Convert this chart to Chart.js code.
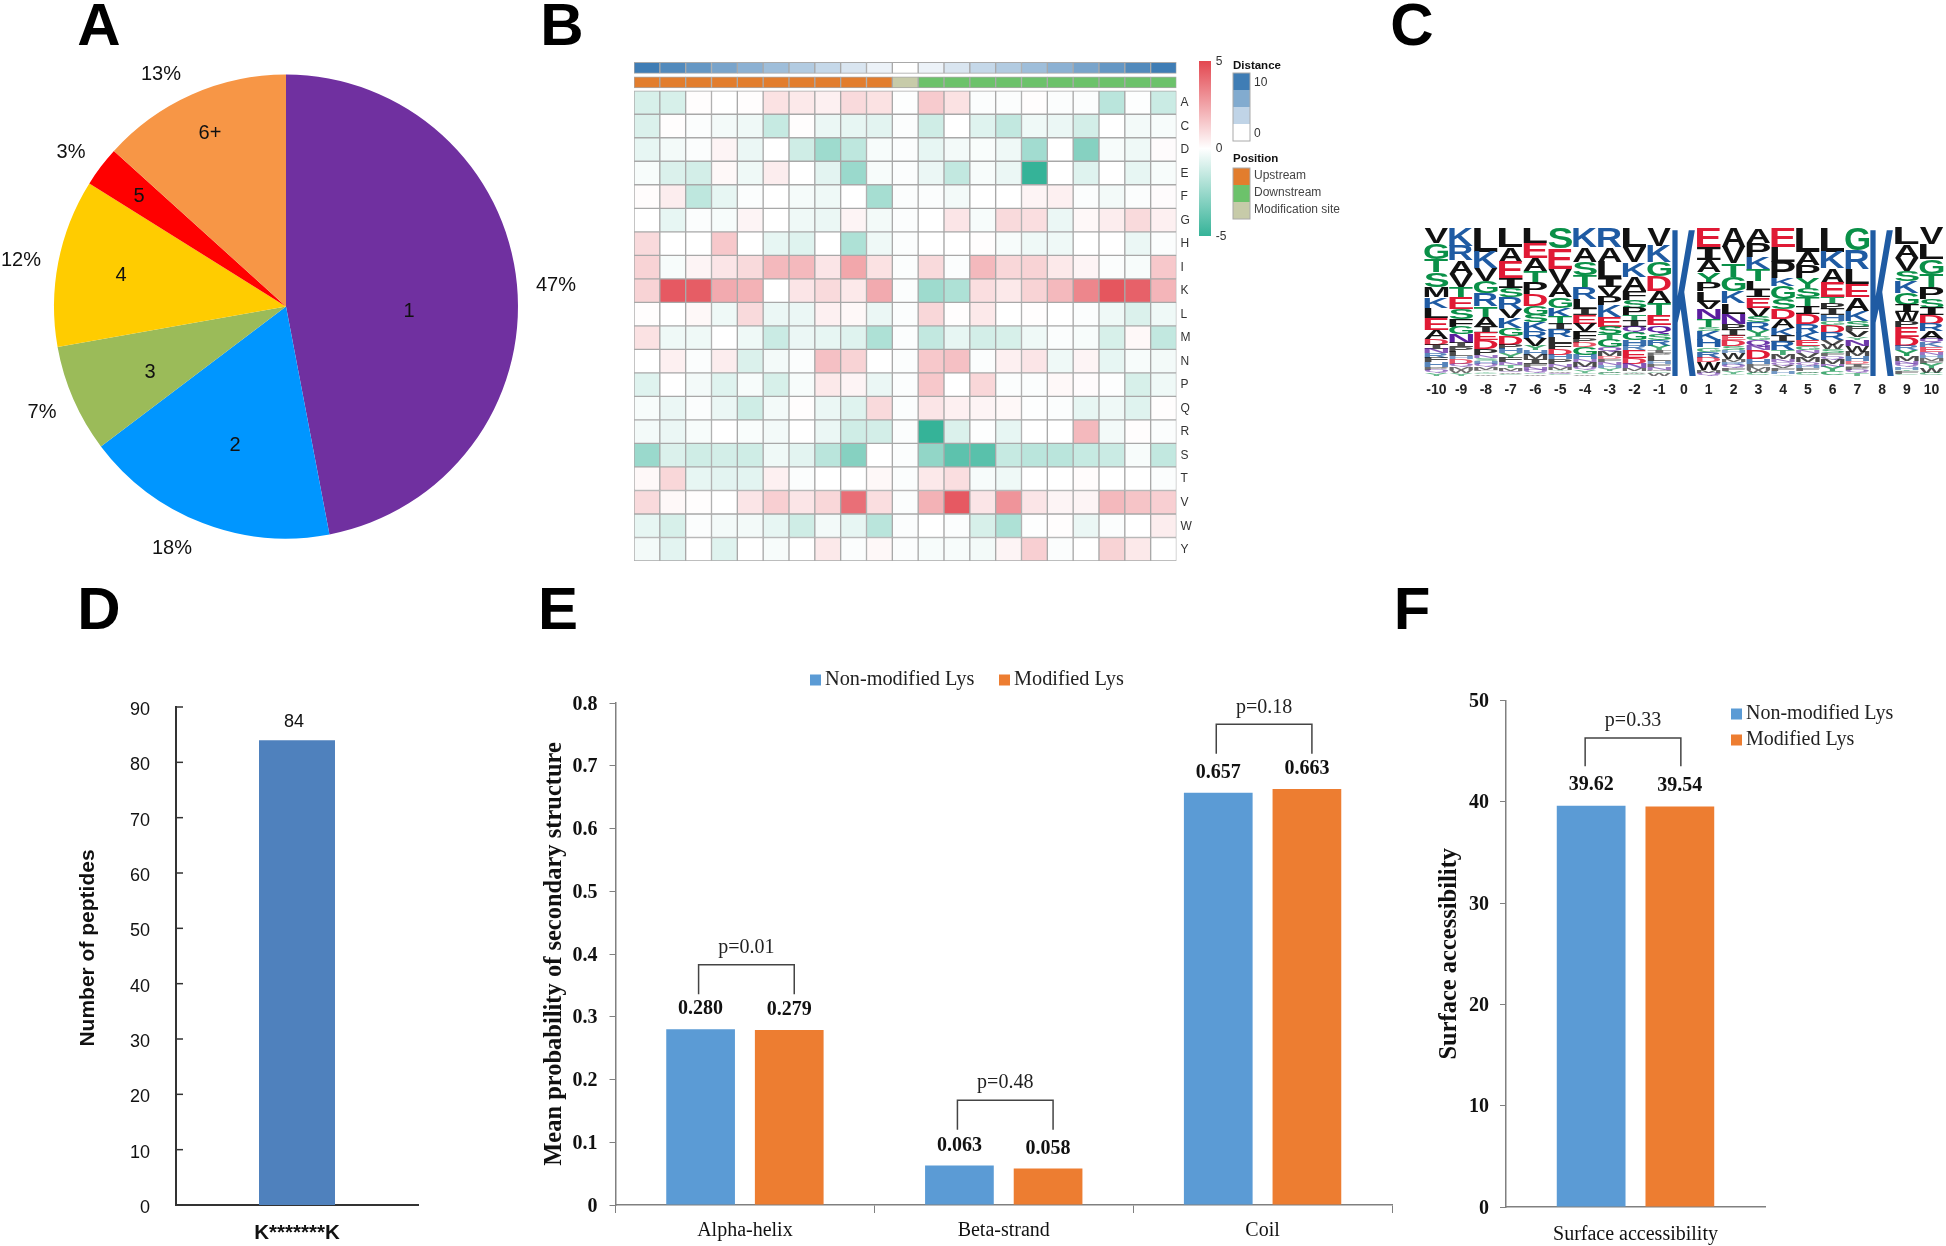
<!DOCTYPE html>
<html>
<head>
<meta charset="utf-8">
<title>Lysine modification panels</title>
<script src="https://cdn.jsdelivr.net/npm/chart.js@4"></script>
<style>
    html, body { margin: 0; padding: 0; background: #fff; width: 1946px; height: 1246px; overflow: hidden; }
    canvas { position: absolute; left: 0; top: 0; }
    .panel-letter { position: absolute; font: bold 60px "Liberation Sans", sans-serif; color: #000; line-height: 60px; transform: translateX(-50%); }
</style>
</head>
<body>
<div class="panel-letter" style="left:99px;top:-5px">A</div>
<div class="panel-letter" style="left:562px;top:-5px">B</div>
<div class="panel-letter" style="left:1412px;top:-5px">C</div>
<div class="panel-letter" style="left:99px;top:579px">D</div>
<div class="panel-letter" style="left:558px;top:579px">E</div>
<div class="panel-letter" style="left:1412px;top:579px">F</div>
<canvas id="pieChart" width="1946" height="1246"></canvas>
<canvas id="heatChart" width="1946" height="1246"></canvas>
<canvas id="logoChart" width="1946" height="1246"></canvas>
<canvas id="peptideChart" width="1946" height="1246"></canvas>
<canvas id="structureChart" width="1946" height="1246"></canvas>
<canvas id="surfaceChart" width="1946" height="1246"></canvas>
<script>
// --- DATA: A (pie) ---
const pieLabels = ['1', '2', '3', '4', '5', '6+'];
const pieValues = [47, 17.7, 7.5, 11.7, 2.8, 13.3];
const piePercentLabels = ['47%', '18%', '7%', '12%', '3%', '13%'];

// --- DATA: B (heatmap) ---
const heatRows = ['A', 'C', 'D', 'E', 'F', 'G', 'H', 'I', 'K', 'L', 'M', 'N', 'P', 'Q', 'R', 'S', 'T', 'V', 'W', 'Y'];
const heatColumns = [-10, -9, -8, -7, -6, -5, -4, -3, -2, -1, 0, 1, 2, 3, 4, 5, 6, 7, 8, 9, 10];
const heatValues = [
    [-1, -1, .05, 0, .05, .8, .6, .4, 1, .8, -.05, 1.4, .8, -.1, -.1, .05, -.1, -.1, -1.7, -.05, -1.3],
    [-.9, .05, -.1, -.3, -.4, -1.4, .05, -.5, -.6, -.7, -.1, -1.2, 0, -.8, -1.5, -.4, -.5, -1.1, 0, -.3, -.2],
    [-.6, -.3, -.1, .3, -.5, 0, -1.2, -2.4, -1.6, -.2, -.1, -.6, -.3, -.15, -.4, -2.3, 0, -3, -.2, -.4, .1],
    [-.2, -.9, -1.1, .2, -.4, .5, 0, -.7, -2.5, -.2, -.1, -.5, -1.5, -.2, -.5, -5, 0, -.8, 0, -.6, -.2],
    [.08, .5, -1.6, -.6, -.1, 0, -.25, -.4, 0, -2.2, -.1, -.1, -.3, 0, 0, .3, .4, -.1, -.3, -.1, .1],
    [0, -.6, -.1, -.2, .3, 0, -.4, -.5, .3, -.3, -.1, 0, .7, -.2, 1, .9, -.5, .2, .5, 1, .4],
    [1, 0, 0, 1.5, 0, -.6, -.8, 0, -2, -.4, -.1, 0, 0, .05, -.2, -.4, -.4, 0, 0, -.5, -.1],
    [1.2, -.2, .3, .7, 1, 1.9, 1.9, .7, 2.4, .8, -.1, 1, -.1, 1.9, 1.1, 1.2, .6, .3, -.1, -.2, 1.5],
    [1.2, 4.5, 4.4, 2.3, 2.1, 0, .7, 1, .6, 2.3, -.1, -2.4, -2, .9, .6, 1.2, 1.9, 3.3, 4.6, 4.3, 2],
    [.05, 0, .2, -.4, 1, -.5, -.5, .4, .2, -.5, -.1, 1.1, .05, .6, 0, .05, 0, -.1, -.4, -.9, -.4],
    [.8, -.4, -.4, 0, -.4, -1.3, -.5, -.6, -.8, -2, -.1, -1.5, -.6, -1.1, -1, -.4, -.1, -.2, -1, .2, -1.5],
    [0, .4, -.1, .5, -.9, -.3, -.1, 1.7, 1.2, 0, -.1, 1.5, 1.7, -.1, .4, .7, -.4, .3, -.6, -.2, -.3],
    [-.8, 0, -.3, -.8, -.2, -1, -.2, .6, .3, -.5, -.1, 1.5, 0, 1.1, -.1, -.1, .2, .1, -.05, -1, -.4],
    [-.2, -.5, -.1, -.5, -1.2, -.3, .05, -.5, -.8, 1, -.1, .7, .4, .3, .2, -.05, -.1, -.6, -.4, -.8, .05],
    [-.3, -.5, -.2, 0, -.15, -.3, 0, -.5, -1.2, -1.1, -.1, -5, -.9, -.05, -.6, 0, 0, 1.9, -.3, .05, -.1],
    [-2.5, -.9, -1.2, -1.1, -1.2, -.4, -.7, -1.7, -3, 0, -.1, -2.7, -4, -4.1, -1.4, -1.7, -1.7, -1.4, -1.3, -.2, -1.5],
    [.2, 1.1, -.6, -.7, -.7, .4, -.1, 0, 0, .2, -.1, .6, .9, -.2, -.4, 0, 0, .08, 0, 0, -.1],
    [1, .2, .05, 0, .7, 1.3, .7, 1.1, 3.9, .9, -.1, 2.1, 4.5, .7, 2.9, .7, .3, .3, 1.9, 1.6, 1.3],
    [-.6, -1, -.1, -.3, -.3, -.6, -1.2, -.3, -.6, -1.7, -.1, 0, -.1, -1, -2, -.05, .05, -.5, -.1, 0, .5],
    [-.3, -.7, 0, -.8, 0, -.2, 0, .6, -.1, .2, -.1, -.2, -.2, -.3, .3, 1.3, -.1, 0, 1.2, .6, 0]
];
const distanceValues = [10, 9, 8, 7, 6, 5, 4, 3, 2, 1, 0, 1, 2, 3, 4, 5, 6, 7, 8, 9, 10];
const positionTypes = ['Upstream', 'Upstream', 'Upstream', 'Upstream', 'Upstream', 'Upstream', 'Upstream', 'Upstream', 'Upstream', 'Upstream', 'Modification site',
    'Downstream', 'Downstream', 'Downstream', 'Downstream', 'Downstream', 'Downstream', 'Downstream', 'Downstream', 'Downstream', 'Downstream'];

// --- DATA: C (sequence logo), letters top to bottom, heights in % of the column ---
const logoPositions = ['-10', '-9', '-8', '-7', '-6', '-5', '-4', '-3', '-2', '-1', '0', '1', '2', '3', '4', '5', '6', '7', '8', '9', '10'];
const logoLetters = [
    'VGTSMKLEADINRFHPQY', 'KRAVTESFGNIPLHDQMWY', 'LKVGRTAIEDPNSHQMFYCW', 'LAEISRVKGDPHYFNTMQWC', 'LEATPDGSKRVYHMIFNQCW',
    'SEVAGKTIRLFDHPNMYWQC', 'KASTRLIEVFPDGHNMQYCW', 'RALIVPKESTGQMDFNHYWC', 'LVKAFSPTIQGHREDNMYWC', 'VKGDATEQSRYIPLHFNMCW',
    'K',
    'EIAYPLVNTSKHGRDWMQ', 'AVTGKLNPIEDSHWMRQFYC', 'APKTLIEVSRYGQNDHFMWC', 'ELPKGSDAKIRTMNQVFHY', 'LAPYSTIDRKEGNVMQHFWC',
    'LKAETPIHGDRVWSFQMNYC', 'GRLEAKSFVYNWMHDIPQT',
    'K',
    'LAVSKGIWPEDRYMNQHTFC', 'VLGTPSIDRAQKENHMFYWC'
];
const logoHeights = [
    [10, 11, 9, 10, 7, 7, 7, 8, 6, 4, 3, 3, 3, 3, 3, 2, 2, 2],
    [12, 10, 9, 9, 7, 8, 7, 5, 5, 6, 3, 3, 3, 2, 3, 2, 2, 2, 2],
    [16, 11, 9, 8, 9, 7, 7, 4, 5, 6, 4, 2, 2, 2, 2, 2, 1, 1, 1, 1],
    [13, 10, 11, 7, 6, 8, 6, 7, 5, 6, 3, 3, 3, 3, 2, 2, 2, 1, 1, 1],
    [10, 10, 9, 8, 8, 8, 6, 5, 6, 5, 5, 3, 3, 3, 3, 2, 2, 2, 1, 1],
    [14, 14, 10, 9, 7, 6, 5, 4, 5, 4, 4, 4, 3, 3, 2, 2, 1, 1, 1, 1],
    [13, 10, 9, 8, 8, 7, 4, 6, 5, 5, 3, 3, 5, 3, 2, 3, 2, 2, 1, 1],
    [13, 10, 11, 6, 6, 6, 8, 7, 5, 4, 5, 3, 3, 2, 2, 2, 2, 2, 1, 2],
    [13, 10, 10, 10, 6, 5, 5, 4, 4, 4, 5, 4, 3, 5, 4, 3, 2, 1, 1, 1],
    [12, 11, 10, 10, 8, 8, 7, 6, 4, 4, 3, 2, 2, 3, 2, 2, 2, 1, 1, 2],
    [100],
    [13, 9, 8, 7, 6, 7, 5, 7, 5, 3, 6, 5, 3, 4, 3, 5, 2, 2],
    [13, 11, 9, 10, 8, 7, 7, 4, 4, 3, 4, 3, 2, 4, 2, 2, 2, 2, 2, 1],
    [10, 10, 8, 8, 6, 5, 7, 6, 4, 5, 4, 3, 4, 3, 6, 3, 2, 2, 2, 2],
    [13, 10, 11, 5, 9, 7, 7, 6, 5, 4, 6, 3, 3, 2, 2, 2, 2, 2, 1],
    [16, 9, 9, 7, 6, 6, 5, 7, 6, 5, 4, 3, 2, 3, 3, 2, 2, 2, 1, 2],
    [16, 11, 10, 10, 4, 4, 4, 4, 3, 5, 5, 3, 3, 3, 2, 2, 3, 2, 3, 3],
    [15, 13, 10, 9, 9, 7, 4, 3, 4, 2, 4, 4, 3, 3, 2, 2, 2, 2, 2],
    [100],
    [11, 9, 9, 7, 8, 8, 5, 6, 4, 7, 6, 3, 4, 3, 2, 2, 2, 1, 2, 1],
    [11, 10, 10, 9, 8, 6, 5, 6, 5, 5, 3, 3, 3, 2, 2, 2, 2, 3, 3, 2]
];

// --- DATA: D ---
const peptideLabels = ['K*******K'];
const peptideCounts = [84];

// --- DATA: E ---
const structureLabels = ['Alpha-helix', 'Beta-strand', 'Coil'];
const structureNonModified = [0.280, 0.063, 0.657];
const structureModified = [0.279, 0.058, 0.663];
const structurePValues = ['p=0.01', 'p=0.48', 'p=0.18'];
const structureBracketTops = [0.383, 0.167, 0.766];
const structureBracketFeet = [0.336, 0.120, 0.719];

// --- DATA: F ---
const surfaceLabels = ['Surface accessibility'];
const surfaceNonModified = [39.62];
const surfaceModified = [39.54];
const surfacePValues = ['p=0.33'];
const surfaceBracketTops = [46.3];
const surfaceBracketFeet = [43.5];

// --- STYLES ---
const SANS = '"Liberation Sans", Arial, sans-serif';
const SERIF = '"Liberation Serif", "Times New Roman", serif';
const BLUE = '#5b9bd5';
const ORANGE = '#ed7d31';
const PAGE_W = 1946;
const PAGE_H = 1246;

const pieColors = ['#7030a0', '#0096ff', '#9bbb59', '#ffcc00', '#ff0000', '#f79646'];
const pieInnerOffsets = [[123, 5], [-51, 139], [-136, 66], [-165, -31], [-147, -110], [-76, -173]];
const pieOuterOffsets = [[270, -21], [-114, 242], [-244, 106], [-265, -46], [-215, -154], [-125, -232]];
const positionColors = { 'Upstream': '#e27d2d', 'Downstream': '#6cc26b', 'Modification site': '#c7cba9' };
const logoGroups = [
    ['KRH', '#1f5ba3'],
    ['DE', '#e01a35'],
    ['NQ', '#5a1e9e'],
    ['STGYC', '#0a9048'],
    ['AVLIPWFM', '#111111']
];

Chart.defaults.animation = false;
Chart.defaults.responsive = false;
Chart.defaults.font.family = SANS;
Chart.defaults.plugins.legend.display = false;
Chart.defaults.plugins.tooltip.enabled = false;

function mix(a, b, t) {
    const c = [0, 1, 2].map(i => Math.round(a[i] + (b[i] - a[i]) * t));
    return `rgb(${c[0]}, ${c[1]}, ${c[2]})`;
}

function heatColor(v) {
    return v >= 0 ? mix([255, 255, 255], [227, 71, 80], v / 5) : mix([255, 255, 255], [53, 179, 152], -v / 5);
}

function distanceColor(v) {
    return mix([255, 255, 255], [63, 125, 181], v / 10);
}

function logoColor(letter) {
    const group = logoGroups.find(g => g[0].includes(letter));
    return group ? group[1] : '#111111';
}

// padding that puts the plot area on these page coordinates, axis boxes have a fixed size
function plotPadding(left, top, right, bottom, axisLeft, axisBottom, axisRight) {
    return {
        left: left - (axisLeft || 0),
        top: top,
        right: PAGE_W - right - (axisRight || 0),
        bottom: PAGE_H - bottom - (axisBottom || 0)
    };
}

function text(ctx, str, x, y, font, color, align, rotation) {
    ctx.save();
    ctx.font = font;
    ctx.fillStyle = color || '#111';
    ctx.textAlign = align || 'center';
    ctx.textBaseline = 'middle';
    ctx.translate(x, y);
    if (rotation) ctx.rotate(rotation);
    ctx.fillText(str, 0, 0);
    ctx.restore();
}

// y tick labels sit a little under their tick in the original
const tickNudge = {
    id: 'tickNudge',
    beforeDraw(chart, args, opts) {
        chart.scales.y.getLabelItems().forEach(item => { item.options.translation[1] += opts.y; });
    }
};

// numbers over the bars
const valueLabels = {
    id: 'valueLabels',
    afterDatasetsDraw(chart, args, opts) {
        chart.data.datasets.forEach((ds, d) => {
            chart.getDatasetMeta(d).data.forEach((bar, i) => {
                text(chart.ctx, opts.format(ds.data[i]), bar.x + (opts.dx || 0), bar.y - opts.gap, opts.font, opts.color);
            });
        });
    }
};

// p value brackets between the two bars of a group
const brackets = {
    id: 'brackets',
    afterDatasetsDraw(chart, args, opts) {
        const { ctx, scales } = chart;
        opts.tops.forEach((top, i) => {
            const x1 = chart.getDatasetMeta(0).data[i].x + opts.padLeft;
            const x2 = chart.getDatasetMeta(1).data[i].x + opts.padRight;
            const yTop = scales.y.getPixelForValue(top);
            const yFoot = scales.y.getPixelForValue(opts.feet[i]);
            ctx.save();
            ctx.strokeStyle = '#444';
            ctx.lineWidth = 1.5;
            ctx.beginPath();
            ctx.moveTo(x1, yFoot);
            ctx.lineTo(x1, yTop);
            ctx.lineTo(x2, yTop);
            ctx.lineTo(x2, yFoot);
            ctx.stroke();
            ctx.restore();
            text(ctx, opts.labels[i], (x1 + x2) / 2, yTop - opts.labelGap, opts.font, '#222');
        });
    }
};

const boxLegend = {
    id: 'boxLegend',
    afterDraw(chart, args, opts) {
        const ctx = chart.ctx;
        opts.items.forEach(item => {
            ctx.fillStyle = item.color;
            ctx.fillRect(item.x, item.y - 5.5, 11, 11);
            text(ctx, item.label, item.x + 15, item.y, opts.font, '#222', 'left');
        });
    }
};

// free text such as an axis title that sits off the axis centre
const freeText = {
    id: 'freeText',
    afterDraw(chart, args, opts) {
        opts.items.forEach(t => text(chart.ctx, t.text, t.x, t.y, t.font, t.color, t.align, t.rotation));
    }
};

const innerTicks = {
    id: 'innerTicks',
    afterDraw(chart) {
        const { ctx, scales, chartArea } = chart;
        ctx.save();
        ctx.strokeStyle = '#333';
        ctx.lineWidth = 1.5;
        scales.y.ticks.forEach(t => {
            const y = scales.y.getPixelForValue(t.value);
            ctx.beginPath();
            ctx.moveTo(chartArea.left, y);
            ctx.lineTo(chartArea.left + 7, y);
            ctx.stroke();
        });
        ctx.restore();
    }
};

// --- GRÁFICO A: PIE ---
const pieText = {
    id: 'pieText',
    afterDraw(chart) {
        const arc = chart.getDatasetMeta(0).data[0];
        pieLabels.forEach((label, i) => {
            text(chart.ctx, label, arc.x + pieInnerOffsets[i][0], arc.y + pieInnerOffsets[i][1], `20px ${SANS}`, '#111');
            text(chart.ctx, piePercentLabels[i], arc.x + pieOuterOffsets[i][0], arc.y + pieOuterOffsets[i][1], `20px ${SANS}`, '#111');
        });
    }
};

new Chart(document.getElementById('pieChart'), {
    type: 'pie',
    data: {
        labels: pieLabels,
        datasets: [{ data: pieValues, backgroundColor: pieColors, borderWidth: 0 }]
    },
    options: {
        layout: { padding: plotPadding(54, 74.5, 518, 538.5) }
    },
    plugins: [pieText]
});

// --- GRÁFICO B: HEATMAP ---
const heatLegend = {
    id: 'heatLegend',
    afterDraw(chart) {
        const ctx = chart.ctx;
        const grad = ctx.createLinearGradient(0, 61, 0, 236);
        grad.addColorStop(0, heatColor(5));
        grad.addColorStop(0.5, heatColor(0));
        grad.addColorStop(1, heatColor(-5));
        ctx.fillStyle = grad;
        ctx.fillRect(1199, 61, 12, 175);
        const small = `12px ${SANS}`;
        const head = `bold 11.5px ${SANS}`;
        text(ctx, '5', 1219, 62, small, '#333');
        text(ctx, '0', 1219, 149, small, '#333');
        text(ctx, '-5', 1221, 237, small, '#333');

        text(ctx, 'Distance', 1233, 66, head, '#111', 'left');
        [10, 6.5, 3.3, 0].forEach((v, i) => {
            ctx.fillStyle = distanceColor(v);
            ctx.fillRect(1233, 73 + i * 17, 17, 17);
        });
        ctx.strokeStyle = '#aaa';
        ctx.strokeRect(1233, 73, 17, 68);
        text(ctx, '10', 1254, 83, small, '#333', 'left');
        text(ctx, '0', 1254, 134, small, '#333', 'left');

        text(ctx, 'Position', 1233, 159, head, '#111', 'left');
        Object.keys(positionColors).forEach((name, i) => {
            ctx.fillStyle = positionColors[name];
            ctx.fillRect(1233, 168 + i * 17, 17, 17);
            text(ctx, name, 1254, 176 + i * 17, small, '#444', 'left');
        });
        ctx.strokeStyle = '#aaa';
        ctx.strokeRect(1233, 168, 17, 51);
    }
};

const heatCell = { barPercentage: 1, categoryPercentage: 1, grouped: false, borderWidth: 1, borderColor: '#a9a9a9', borderSkipped: false };

new Chart(document.getElementById('heatChart'), {
    type: 'bar',
    data: {
        labels: heatColumns,
        datasets: [
            { ...heatCell, label: 'Distance', data: heatColumns.map(() => [-1.21, -0.74]), backgroundColor: distanceValues.map(distanceColor) },
            { ...heatCell, label: 'Position', data: heatColumns.map(() => [-0.59, -0.12]), backgroundColor: positionTypes.map(p => positionColors[p]) }
        ].concat(heatRows.map((row, r) => ({
            ...heatCell,
            label: row,
            data: heatValues[r].map(() => [r, r + 1]),
            backgroundColor: heatValues[r].map(heatColor)
        })))
    },
    options: {
        layout: { padding: plotPadding(634, 62, 1176.5, 561, 0, 0, 20) },
        scales: {
            x: { display: false },
            y: {
                position: 'right',
                reverse: true,
                min: -1.222,
                max: 20,
                afterBuildTicks: axis => { axis.ticks = heatRows.map((r, i) => ({ value: i + 0.52 })); },
                afterFit: axis => { axis.width = 20; },
                grid: { display: false, drawTicks: false },
                border: { display: false },
                ticks: { autoSkip: false, padding: 4, color: '#333', font: { size: 12 }, callback: v => heatRows[Math.floor(v)] }
            }
        }
    },
    plugins: [heatLegend]
});

// --- GRÁFICO C: LOGO ---
const logoDepth = Math.max(...logoHeights.map(h => h.length));
const logoDraw = {
    id: 'logoDraw',
    afterDatasetsDraw(chart) {
        const ctx = chart.ctx;
        chart.data.datasets.forEach((ds, d) => {
            chart.getDatasetMeta(d).data.forEach((bar, i) => {
                const letter = logoLetters[i][d];
                if (!letter) return;
                const h = Math.abs(bar.base - bar.y);
                const top = Math.min(bar.base, bar.y);
                ctx.save();
                // the I of the original logo has slab serifs, small letters blur to a lighter tone
                ctx.font = letter === 'I' ? 'bold 100px "DejaVu Sans Mono"' : `bold 100px ${SANS}`;
                ctx.globalAlpha = Math.min(1, 0.35 + h / 11);
                ctx.textAlign = 'left';
                ctx.textBaseline = 'alphabetic';
                const m = ctx.measureText(letter);
                const gw = m.actualBoundingBoxLeft + m.actualBoundingBoxRight;
                const gh = m.actualBoundingBoxAscent + m.actualBoundingBoxDescent;
                ctx.translate(bar.x - bar.width / 2, top);
                ctx.scale(bar.width / gw, h / gh);
                ctx.fillStyle = logoColor(letter);
                ctx.fillText(letter, m.actualBoundingBoxLeft, m.actualBoundingBoxAscent);
                ctx.restore();
            });
        });
    }
};

new Chart(document.getElementById('logoChart'), {
    type: 'bar',
    data: {
        labels: logoPositions,
        datasets: Array.from({ length: logoDepth }, (_, level) => ({
            data: logoHeights.map(h => (h[level] === undefined ? null : h[level])),
            backgroundColor: 'rgba(0,0,0,0)',
            barPercentage: 0.96,
            categoryPercentage: 1
        }))
    },
    options: {
        layout: { padding: plotPadding(1424, 228, 1944, 375.5, 0, 26) },
        scales: {
            x: {
                stacked: true,
                afterFit: axis => { axis.height = 26; },
                grid: { display: false, drawTicks: false },
                border: { display: false },
                ticks: { maxRotation: 0, autoSkip: false, padding: 6, color: '#222', font: { size: 14, weight: 'bold' } }
            },
            y: { stacked: true, reverse: true, min: 0, max: 100, display: false }
        }
    },
    plugins: [logoDraw]
});

// --- GRÁFICO D: PEPTIDES ---
new Chart(document.getElementById('peptideChart'), {
    type: 'bar',
    data: {
        labels: peptideLabels,
        datasets: [{ data: peptideCounts, backgroundColor: '#4f81bd', barPercentage: 0.314, categoryPercentage: 1 }]
    },
    options: {
        layout: { padding: plotPadding(176, 707, 418, 1205, 60, 50) },
        scales: {
            x: {
                afterFit: axis => { axis.height = 50; },
                grid: { display: false },
                border: { color: '#333', width: 2 },
                ticks: { padding: 8.5, color: '#111', font: { size: 20.5, weight: 'bold' } }
            },
            y: {
                min: 0,
                max: 90,
                afterFit: axis => { axis.width = 60; },
                grid: { display: false },
                border: { color: '#333', width: 2 },
                ticks: { stepSize: 10, padding: 18, color: '#111', font: { size: 18 } }
            }
        },
        plugins: {
            tickNudge: { y: 3 },
            valueLabels: { format: v => String(v), gap: 18, dx: -3, font: `18px ${SANS}`, color: '#111' },
            freeText: { items: [{ text: 'Number of peptides', x: 88, y: 948, font: `bold 21px ${SANS}`, rotation: -Math.PI / 2 }] }
        }
    },
    plugins: [tickNudge, valueLabels, freeText, innerTicks]
});

// --- GRÁFICO E: SECONDARY STRUCTURE ---
const twoBarStyle = { barPercentage: 0.775, categoryPercentage: 0.685 };

new Chart(document.getElementById('structureChart'), {
    type: 'bar',
    data: {
        labels: structureLabels,
        datasets: [
            { ...twoBarStyle, label: 'Non-modified Lys', data: structureNonModified, backgroundColor: BLUE },
            { ...twoBarStyle, label: 'Modified Lys', data: structureModified, backgroundColor: ORANGE }
        ]
    },
    options: {
        layout: { padding: plotPadding(615.5, 703, 1392, 1205, 76, 50) },
        scales: {
            x: {
                afterFit: axis => { axis.height = 50; },
                grid: { drawOnChartArea: false, offset: true, tickLength: 8, color: '#808080' },
                border: { color: '#808080', width: 1.5 },
                ticks: { padding: 6, color: '#111', font: { family: SERIF, size: 20 } }
            },
            y: {
                min: 0,
                max: 0.8,
                afterFit: axis => { axis.width = 76; },
                grid: { drawOnChartArea: false, tickLength: 6, color: '#808080' },
                border: { color: '#808080', width: 1.5 },
                ticks: { stepSize: 0.1, padding: 12, color: '#111', font: { family: SERIF, size: 20, weight: 'bold' }, callback: v => (v === 0 ? '0' : v.toFixed(1)) },
                title: { display: true, text: 'Mean probability of secondary structure', color: '#111', padding: 0, font: { family: SERIF, size: 24.5, weight: 'bold' } }
            }
        },
        plugins: {
            tickNudge: { y: 1.5 },
            valueLabels: { format: v => v.toFixed(3), gap: 20, font: `bold 20px ${SERIF}`, color: '#111' },
            brackets: { tops: structureBracketTops, feet: structureBracketFeet, labels: structurePValues, padLeft: -2, padRight: 5, labelGap: 17, font: `20px ${SERIF}` },
            boxLegend: { font: `20.3px ${SERIF}`, items: [
                { label: 'Non-modified Lys', color: BLUE, x: 810, y: 680 },
                { label: 'Modified Lys', color: ORANGE, x: 999, y: 680 }
            ] }
        }
    },
    plugins: [tickNudge, valueLabels, brackets, boxLegend]
});

// --- GRÁFICO F: SURFACE ---
new Chart(document.getElementById('surfaceChart'), {
    type: 'bar',
    data: {
        labels: surfaceLabels,
        datasets: [
            { ...twoBarStyle, label: 'Non-modified Lys', data: surfaceNonModified, backgroundColor: BLUE },
            { ...twoBarStyle, label: 'Modified Lys', data: surfaceModified, backgroundColor: ORANGE }
        ]
    },
    options: {
        layout: { padding: plotPadding(1506, 700.5, 1765, 1207, 71, 50) },
        scales: {
            x: {
                afterFit: axis => { axis.height = 50; },
                grid: { display: false },
                border: { color: '#808080', width: 1.5 },
                ticks: { padding: 8, color: '#111', font: { family: SERIF, size: 20 } }
            },
            y: {
                min: 0,
                max: 50,
                afterFit: axis => { axis.width = 71; },
                grid: { drawOnChartArea: false, tickLength: 6, color: '#808080' },
                border: { color: '#808080', width: 1.5 },
                ticks: { stepSize: 10, padding: 11, color: '#111', font: { family: SERIF, size: 20, weight: 'bold' } },
                title: { display: true, text: 'Surface accessibility', color: '#111', padding: 0, font: { family: SERIF, size: 24.5, weight: 'bold' } }
            }
        },
        plugins: {
            tickNudge: { y: 1.5 },
            valueLabels: { format: v => v.toFixed(2), gap: 21, font: `bold 20px ${SERIF}`, color: '#111' },
            brackets: { tops: surfaceBracketTops, feet: surfaceBracketFeet, labels: surfacePValues, padLeft: -6, padRight: 1, labelGap: 17, font: `20px ${SERIF}` },
            boxLegend: { font: `20px ${SERIF}`, items: [
                { label: 'Non-modified Lys', color: BLUE, x: 1731, y: 714 },
                { label: 'Modified Lys', color: ORANGE, x: 1731, y: 740 }
            ] }
        }
    },
    plugins: [tickNudge, valueLabels, brackets, boxLegend]
});
</script>
</body>
</html>
